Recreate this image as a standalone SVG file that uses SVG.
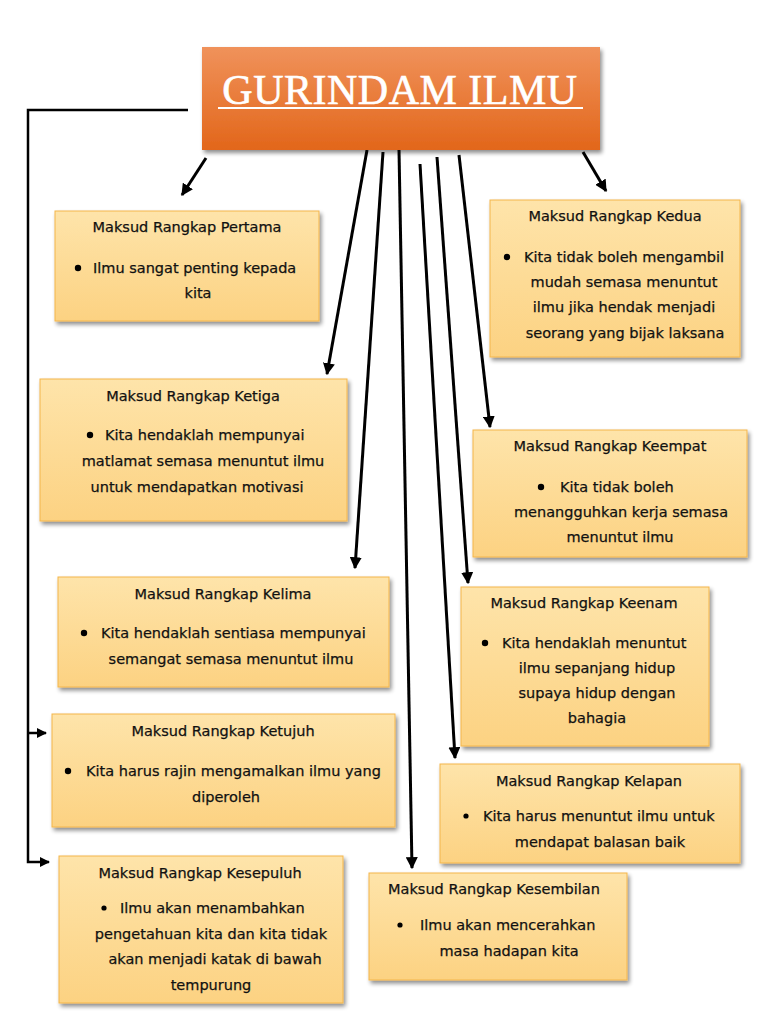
<svg xmlns="http://www.w3.org/2000/svg" width="768" height="1024" viewBox="0 0 768 1024">
<defs>
<linearGradient id="gBox" x1="0" y1="0" x2="0" y2="1">
<stop offset="0" stop-color="#FEE4AA"/>
<stop offset="1" stop-color="#FCD282"/>
</linearGradient>
<linearGradient id="gTitle" x1="0" y1="0" x2="0" y2="1">
<stop offset="0" stop-color="#F0925B"/>
<stop offset="1" stop-color="#E2661A"/>
</linearGradient>
<filter id="sh" x="-10%" y="-10%" width="125%" height="130%">
<feGaussianBlur in="SourceAlpha" stdDeviation="2"/>
<feOffset dx="2" dy="3" result="b"/>
<feComponentTransfer><feFuncA type="linear" slope="0.45"/></feComponentTransfer>
<feMerge><feMergeNode/><feMergeNode in="SourceGraphic"/></feMerge>
</filter>
<marker id="ah" viewBox="0 0 10 10" refX="9" refY="5" markerWidth="4" markerHeight="4" orient="auto" markerUnits="strokeWidth">
<path d="M0,0 L10,5 L0,10 z" fill="#000"/>
</marker>
</defs>
<style>
.box{fill:url(#gBox);stroke:#F4B64A;stroke-width:1;filter:url(#sh)}
.t{font-family:"Comic Sans MS","DejaVu Sans",sans-serif;font-size:14.5px;fill:#111;stroke:#111;stroke-width:0.25;text-anchor:middle}
.s{font-family:"Comic Sans MS","DejaVu Sans",sans-serif;font-size:14.5px;fill:#111;stroke:#111;stroke-width:0.25}
.c{fill:none;stroke:#000;stroke-width:3;marker-end:url(#ah)}
.e{fill:none;stroke:#000;stroke-width:2.5}
</style>
<rect width="768" height="1024" fill="#fff"/>

<g id="connectors">
<line class="c" x1="206" y1="158" x2="182" y2="195"/>
<line class="c" x1="367" y1="150" x2="327" y2="374"/>
<line class="c" x1="383" y1="152" x2="355" y2="568"/>
<line class="c" x1="399" y1="150" x2="412" y2="868"/>
<line class="c" x1="420" y1="164" x2="455" y2="758"/>
<line class="c" x1="437" y1="157" x2="468" y2="583"/>
<line class="c" x1="459" y1="155" x2="490" y2="427"/>
<line class="c" x1="583" y1="152" x2="606" y2="191"/>
<polyline class="e" points="188,110 28,110 28,862 49,862" style="marker-end:url(#ah)"/>
<line class="e" x1="28" y1="733" x2="46" y2="733" style="marker-end:url(#ah)"/>
</g>

<g id="title">
<rect x="202" y="47" width="398" height="103" fill="url(#gTitle)" filter="url(#sh)"/>
<text x="400" y="104" font-family="'Liberation Serif',serif" font-size="42" letter-spacing="0.5" fill="#fff" stroke="#fff" stroke-width="0.6" text-anchor="middle">GURINDAM ILMU</text>
<rect x="218" y="107" width="365" height="2" fill="#fff"/>
</g>

<g id="pertama">
<rect class="box" x="55" y="211" width="264" height="110"/>
<text class="t" x="187" y="232">Maksud Rangkap Pertama</text>
<circle cx="78" cy="268" r="3.2"/>
<text class="s" x="93" y="273">Ilmu sangat penting kepada</text>
<text class="t" x="198" y="298">kita</text>
</g>

<g id="kedua">
<rect class="box" x="490" y="200" width="250" height="157"/>
<text class="t" x="615" y="221">Maksud Rangkap Kedua</text>
<circle cx="507" cy="257" r="3.2"/>
<text class="s" x="524" y="262">Kita tidak boleh mengambil</text>
<text class="t" x="624" y="287">mudah semasa menuntut</text>
<text class="t" x="624" y="312">ilmu jika hendak menjadi</text>
<text class="t" x="625" y="338">seorang yang bijak laksana</text>
</g>

<g id="ketiga">
<rect class="box" x="40" y="379" width="307" height="142"/>
<text class="t" x="193" y="401">Maksud Rangkap Ketiga</text>
<circle cx="90" cy="435" r="3.2"/>
<text class="s" x="105" y="440">Kita hendaklah mempunyai</text>
<text class="t" x="203" y="466">matlamat semasa menuntut ilmu</text>
<text class="t" x="197" y="492">untuk mendapatkan motivasi</text>
</g>

<g id="keempat">
<rect class="box" x="473" y="430" width="274" height="127"/>
<text class="t" x="610" y="451">Maksud Rangkap Keempat</text>
<circle cx="541" cy="487" r="3.2"/>
<text class="s" x="560" y="492">Kita tidak boleh</text>
<text class="t" x="621" y="517">menangguhkan kerja semasa</text>
<text class="t" x="620" y="542">menuntut ilmu</text>
</g>

<g id="kelima">
<rect class="box" x="58" y="577" width="331" height="110"/>
<text class="t" x="223" y="599">Maksud Rangkap Kelima</text>
<circle cx="84" cy="633" r="3.2"/>
<text class="s" x="101" y="638">Kita hendaklah sentiasa mempunyai</text>
<text class="t" x="231" y="664">semangat semasa menuntut ilmu</text>
</g>

<g id="keenam">
<rect class="box" x="461" y="587" width="248" height="159"/>
<text class="t" x="584" y="608">Maksud Rangkap Keenam</text>
<circle cx="485" cy="643" r="3.2"/>
<text class="s" x="502" y="648">Kita hendaklah menuntut</text>
<text class="t" x="597" y="673">ilmu sepanjang hidup</text>
<text class="t" x="597" y="698">supaya hidup dengan</text>
<text class="t" x="597" y="723">bahagia</text>
</g>

<g id="ketujuh">
<rect class="box" x="52" y="714" width="343" height="113"/>
<text class="t" x="223" y="736">Maksud Rangkap Ketujuh</text>
<circle cx="68" cy="771" r="3.2"/>
<text class="s" x="86" y="776">Kita harus rajin mengamalkan ilmu yang</text>
<text class="t" x="226" y="802">diperoleh</text>
</g>

<g id="kelapan">
<rect class="box" x="440" y="764" width="300" height="99"/>
<text class="t" x="589" y="786">Maksud Rangkap Kelapan</text>
<circle cx="466" cy="816" r="2.6"/>
<text class="s" x="483" y="821">Kita harus menuntut ilmu untuk</text>
<text class="t" x="600" y="847">mendapat balasan baik</text>
</g>

<g id="kesepuluh">
<rect class="box" x="59" y="856" width="284" height="147"/>
<text class="t" x="200" y="878">Maksud Rangkap Kesepuluh</text>
<circle cx="104" cy="908" r="2.6"/>
<text class="s" x="120" y="913">Ilmu akan menambahkan</text>
<text class="t" x="211" y="939">pengetahuan kita dan kita tidak</text>
<text class="t" x="215" y="964">akan menjadi katak di bawah</text>
<text class="t" x="211" y="990">tempurung</text>
</g>

<g id="kesembilan">
<rect class="box" x="369" y="873" width="258" height="107"/>
<text class="t" x="494" y="894">Maksud Rangkap Kesembilan</text>
<circle cx="400" cy="925" r="2.6"/>
<text class="s" x="420" y="930">Ilmu akan mencerahkan</text>
<text class="t" x="509" y="956">masa hadapan kita</text>
</g>
</svg>
